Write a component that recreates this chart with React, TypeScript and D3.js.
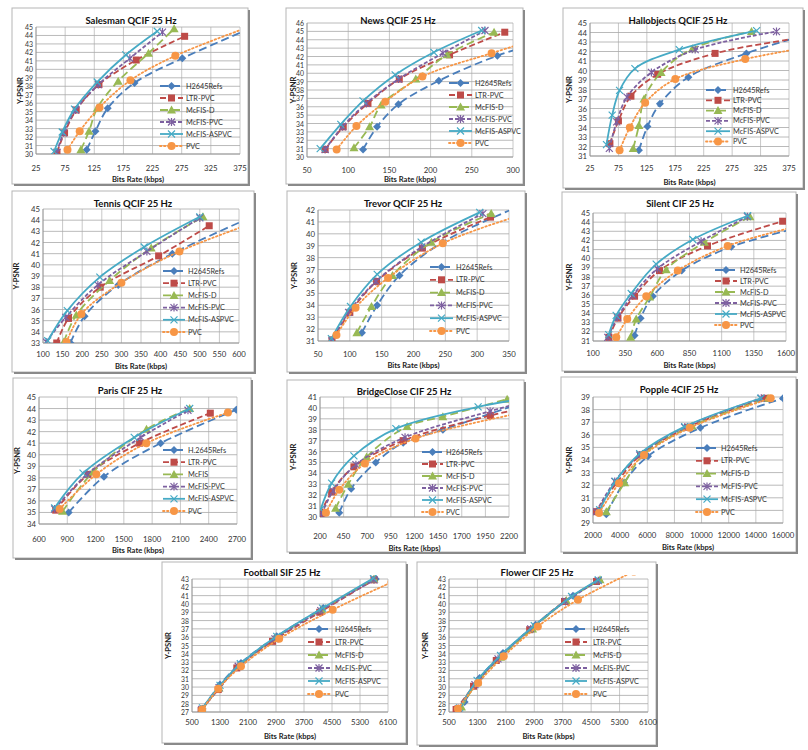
import React from 'react';
import * as d3 from 'd3';

type Pt = [number, number];

// ---------- legend labels ----------
const seriesNames = ['H2645Refs', 'LTR-PVC', 'McFIS-D', 'McFIS-PVC', 'McFIS-ASPVC', 'PVC'];
const parisNames = ['H.2645Refs', 'LTR-PVC', 'McFIS', 'McFIS-PVC', 'McFIS-ASPVC', 'PVC'];

// ---------- data (bit rate kbps, Y-PSNR dB) ----------
const salesmanData: Pt[][] = [
  [[112, 30.5], [127, 32.7], [148, 35.4], [194, 38.4], [276, 41.3], [395, 44.9]],
  [[61, 30.2], [74, 32.5], [94, 35.2], [133, 38.2], [197, 41.1], [280, 43.9]],
  [[102, 30.5], [116, 32.7], [130, 35.4], [166, 38.6], [218, 41.9], [262, 44.8]],
  [[61, 30.2], [72, 32.5], [93, 35.2], [132, 38.2], [186, 41.3], [242, 44.4]],
  [[56, 30.3], [70, 32.6], [91, 35.3], [130, 38.5], [179, 41.7], [233, 44.5]],
  [[79, 30.5], [100, 32.7], [134, 35.5], [187, 38.7], [264, 41.6], [390, 45.0]],
];
const newsData: Pt[][] = [
  [[118, 30.9], [135, 33.6], [161, 36.3], [210, 39.1], [281, 42.1], [320, 43.3]],
  [[72, 30.9], [94, 33.6], [124, 36.4], [162, 39.3], [223, 42.2], [290, 44.9]],
  [[107, 31.1], [126, 33.6], [140, 36.2], [182, 39.3], [220, 42.2], [277, 44.9]],
  [[72, 30.9], [93, 33.6], [122, 36.4], [161, 39.3], [215, 42.4], [266, 45.1]],
  [[66, 31.0], [91, 33.9], [118, 36.7], [157, 39.8], [204, 42.5], [262, 45.1]],
  [[86, 30.9], [110, 33.7], [145, 36.6], [190, 39.6], [274, 42.4], [320, 43.8]],
];
const hallData: Pt[][] = [
  [[111, 31.6], [126, 34.1], [148, 36.5], [198, 39.3], [300, 41.8], [390, 43.5]],
  [[60, 32.3], [75, 34.7], [97, 37.3], [144, 39.6], [245, 41.8], [390, 43.4]],
  [[101, 31.8], [111, 34.2], [120, 37.0], [150, 39.8], [205, 42.3], [309, 44.1]],
  [[59, 31.8], [72, 34.6], [90, 37.2], [133, 39.8], [210, 42.2], [353, 44.1]],
  [[54, 32.2], [64, 35.3], [77, 37.9], [104, 40.2], [182, 42.2], [318, 44.2]],
  [[77, 31.6], [95, 34.0], [122, 36.6], [175, 39.1], [298, 41.2], [395, 42.3]],
];
const tennisData: Pt[][] = [
  [[170, 33.0], [206, 35.4], [292, 38.2], [430, 41.0], [640, 44.4]],
  [[135, 33.0], [165, 35.2], [246, 38.0], [395, 40.8], [524, 43.5]],
  [[153, 33.1], [185, 35.5], [270, 38.6], [376, 41.5], [508, 44.3]],
  [[108, 33.1], [158, 35.3], [240, 38.2], [365, 41.2], [500, 44.2]],
  [[112, 33.2], [162, 35.9], [245, 38.9], [358, 41.6], [500, 44.3]],
  [[160, 33.1], [198, 35.6], [300, 38.4], [448, 41.2], [640, 43.8]],
];
const trevorData: Pt[][] = [
  [[119, 31.7], [143, 34.0], [178, 36.5], [246, 39.3], [370, 42.4]],
  [[72, 31.1], [100, 33.4], [142, 36.0], [214, 38.8], [321, 41.4]],
  [[111, 31.7], [134, 33.9], [167, 36.5], [228, 39.3], [322, 41.7]],
  [[72, 31.0], [98, 33.4], [141, 36.0], [213, 38.9], [309, 41.7]],
  [[71, 31.2], [101, 33.9], [143, 36.6], [212, 39.3], [304, 41.8]],
  [[79, 31.5], [109, 33.8], [160, 36.3], [246, 39.2], [370, 41.6]],
];
const silentData: Pt[][] = [
  [[423, 31.6], [470, 33.5], [565, 35.9], [790, 38.7], [1175, 41.3], [1700, 43.4]],
  [[224, 31.4], [294, 33.5], [423, 35.9], [617, 38.7], [990, 41.4], [1574, 44.1]],
  [[392, 31.4], [436, 33.4], [540, 35.8], [669, 38.8], [966, 41.8], [1320, 44.6]],
  [[215, 31.4], [290, 33.6], [410, 36.0], [600, 38.9], [940, 41.9], [1300, 44.6]],
  [[222, 31.7], [280, 33.8], [397, 36.2], [591, 39.4], [876, 42.1], [1302, 44.7]],
  [[281, 31.4], [366, 33.4], [514, 35.9], [759, 38.7], [1147, 41.4], [1700, 43.6]],
];
const parisData: Pt[][] = [
  [[915, 35.0], [1289, 38.1], [1890, 41.0], [2693, 43.9]],
  [[777, 35.2], [1120, 38.3], [1667, 41.0], [2417, 43.6]],
  [[850, 35.1], [1173, 38.5], [1740, 42.2], [2198, 44.0]],
  [[766, 35.3], [1110, 38.3], [1680, 41.5], [2180, 43.85]],
  [[766, 35.4], [1067, 38.4], [1610, 41.5], [2198, 44.0]],
  [[819, 35.3], [1208, 38.3], [1738, 41.0], [2604, 43.65]],
];
const bridgeData: Pt[][] = [
  [[404, 30.4], [530, 32.6], [790, 35.0], [1080, 36.8], [1500, 38.0], [2250, 40.2]],
  [[207, 30.3], [323, 32.3], [559, 34.6], [1080, 37.0], [2003, 39.3], [2250, 39.8]],
  [[365, 30.8], [499, 33.0], [693, 35.5], [1122, 38.3], [1500, 39.2], [2180, 40.8]],
  [[218, 30.3], [340, 32.4], [580, 34.8], [1100, 37.3], [2000, 39.7], [2250, 40.3]],
  [[207, 30.7], [323, 33.1], [559, 35.6], [1003, 38.1], [1873, 40.1], [2250, 40.7]],
  [[263, 30.4], [404, 32.5], [675, 34.9], [1211, 37.2], [2250, 39.4]],
];
const poppleData: Pt[][] = [
  [[2982, 29.7], [4284, 32.2], [6053, 34.3], [9909, 36.55], [16000, 38.9]],
  [[2245, 29.9], [3750, 32.2], [5500, 34.4], [9000, 36.6], [14650, 38.9]],
  [[2982, 29.9], [4334, 32.2], [5700, 34.4], [9300, 36.7], [14900, 38.9]],
  [[2245, 29.9], [3600, 32.3], [5440, 34.4], [8755, 36.6], [14400, 38.9]],
  [[2491, 30.05], [3646, 32.3], [5439, 34.5], [8755, 36.65], [14355, 38.9]],
  [[2442, 29.8], [3916, 32.15], [5758, 34.4], [9123, 36.55], [15093, 38.9]],
];
const footballData: Pt[][] = [
  [[800, 27.4], [1300, 30.3], [1900, 32.9], [2920, 36.1], [4250, 39.5], [5750, 43.0]],
  [[760, 27.2], [1250, 29.7], [1780, 32.3], [2800, 35.5], [4150, 39.0], [5700, 42.9]],
  [[790, 27.3], [1270, 29.9], [1830, 32.5], [2880, 35.9], [4200, 39.3], [5700, 43.0]],
  [[780, 27.3], [1270, 29.9], [1820, 32.5], [2870, 35.8], [4180, 39.2], [5700, 42.9]],
  [[800, 27.5], [1300, 30.2], [1880, 32.8], [2920, 36.1], [4230, 39.5], [5680, 43.1]],
  [[790, 27.3], [1250, 29.8], [1900, 32.5], [2990, 35.8], [4520, 39.3], [6200, 42.6]],
];
const flowerData: Pt[][] = [
  [[940, 28.2], [1360, 31.1], [2020, 34.1], [2940, 37.5], [3990, 41.0], [4720, 42.8]],
  [[700, 27.3], [1190, 30.1], [1830, 33.2], [2770, 36.9], [3750, 40.3], [4650, 42.7]],
  [[850, 27.6], [1300, 30.6], [1950, 33.6], [2850, 37.0], [3800, 40.4], [4750, 42.9]],
  [[760, 27.4], [1230, 30.3], [1880, 33.4], [2800, 37.0], [3780, 40.3], [4700, 42.8]],
  [[800, 27.5], [1290, 30.8], [1950, 33.8], [2900, 37.4], [3950, 40.9], [4700, 42.9]],
  [[750, 27.4], [1320, 30.5], [2040, 33.7], [3000, 37.3], [4130, 40.5], [5700, 43.9]],
];

// ---------- tick labels ----------
const ticks25to375 = [25, 75, 125, 175, 225, 275, 325, 375];
const newsTicks = [50, 100, 150, 200, 250, 300];
const tennisTicks = [100, 150, 200, 250, 300, 350, 400, 450, 500, 550, 600];
const trevorTicks = [50, 100, 150, 200, 250, 300, 350];
const silentTicks = [100, 350, 600, 850, 1100, 1350, 1600];
const parisTicks = [600, 900, 1200, 1500, 1800, 2100, 2400, 2700];
const bridgeTicks = [200, 450, 700, 950, 1200, 1450, 1700, 1950, 2200];
const poppleTicks = [2000, 4000, 6000, 8000, 10000, 12000, 14000, 16000];
const sifTicks = [500, 1300, 2100, 2900, 3700, 4500, 5300, 6100];

// ---------- styles ----------
const seriesStyle = [
  { color: '#4A7EBB', dash: '8,4', marker: 'diamond' },
  { color: '#BE4B48', dash: '6,3', marker: 'square' },
  { color: '#98B954', dash: '8,4', marker: 'triangle' },
  { color: '#7D60A0', dash: '4,2', marker: 'star' },
  { color: '#46AAC5', dash: '', marker: 'x' },
  { color: '#F79646', dash: '1.5,2.5', marker: 'circle' },
];

const FONT = 'Lato, "Open Sans", sans-serif';

interface PanelCfg {
  id: string;
  title: string;
  data: Pt[][];
  names: string[];
  xTicks: number[];
  yMin: number;
  yMax: number;
  box: number[];
  plot: number[];
  titleXY: number[];
  yLabelX: number;
  xLabelY: number;
  xTitleY: number;
  legend: number[];
}

const panels: PanelCfg[] = [
  { id: 'p1', title: 'Salesman QCIF 25 Hz', data: salesmanData, names: seriesNames, xTicks: ticks25to375, yMin: 30, yMax: 45,
    box: [12, 8, 248, 184], plot: [36, 27, 240, 154], titleXY: [131, 20], yLabelX: 20, xLabelY: 168, xTitleY: 179, legend: [160, 183, 186, 86, 12] },
  { id: 'p2', title: 'News QCIF 25 Hz', data: newsData, names: seriesNames, xTicks: newsTicks, yMin: 30, yMax: 46,
    box: [286, 8, 523, 184], plot: [307, 23, 513, 157], titleXY: [398, 20], yLabelX: 293, xLabelY: 170, xTitleY: 179, legend: [449, 472, 475, 83, 12] },
  { id: 'p3', title: 'Hallobjects QCIF 25 Hz', data: hallData, names: seriesNames, xTicks: ticks25to375, yMin: 31, yMax: 45,
    box: [563, 8, 803, 188], plot: [590, 23, 789, 156], titleXY: [678, 20], yLabelX: 569, xLabelY: 168, xTitleY: 182, legend: [706, 730, 733, 90, 10.3] },
  { id: 'p4', title: 'Tennis QCIF 25 Hz', data: tennisData, names: seriesNames, xTicks: tennisTicks, yMin: 33, yMax: 45,
    box: [12, 191, 254, 372], plot: [43, 209, 239, 343], titleXY: [133, 203], yLabelX: 16, xLabelY: 354, xTitleY: 366, legend: [163, 185, 188, 271, 12.2] },
  { id: 'p5', title: 'Trevor QCIF 25 Hz', data: trevorData, names: seriesNames, xTicks: trevorTicks, yMin: 31, yMax: 42,
    box: [287, 191, 525, 372], plot: [318, 210, 509, 341], titleXY: [403, 203], yLabelX: 294, xLabelY: 354, xTitleY: 365, legend: [430, 453, 456, 267, 12.8] },
  { id: 'p6', title: 'Silent CIF 25 Hz', data: silentData, names: seriesNames, xTicks: silentTicks, yMin: 31, yMax: 45,
    box: [562, 192, 796, 371], plot: [593, 213, 786, 341], titleXY: [680, 203], yLabelX: 569, xLabelY: 353, xTitleY: 365, legend: [715, 737, 740, 270, 11] },
  { id: 'p7', title: 'Paris CIF 25 Hz', data: parisData, names: parisNames, xTicks: parisTicks, yMin: 34, yMax: 45,
    box: [13, 378, 251, 558], plot: [39, 397, 237, 524], titleXY: [130, 390], yLabelX: 17, xLabelY: 539, xTitleY: 550, legend: [163, 185, 188, 450, 12.2] },
  { id: 'p8', title: 'BridgeClose CIF 25 Hz', data: bridgeData, names: seriesNames, xTicks: bridgeTicks, yMin: 30, yMax: 41,
    box: [287, 380, 524, 552], plot: [320, 397, 509, 517], titleXY: [404, 391], yLabelX: 293, xLabelY: 536, xTitleY: 548, legend: [422, 443, 446, 452, 12] },
  { id: 'p9', title: 'Popple 4CIF 25 Hz', data: poppleData, names: seriesNames, xTicks: poppleTicks, yMin: 29, yMax: 39,
    box: [561, 377, 796, 552], plot: [593, 397, 783, 523], titleXY: [679, 389], yLabelX: 569, xLabelY: 535, xTitleY: 547, legend: [696, 718, 721, 448, 12.8] },
  { id: 'p10', title: 'Football SIF 25 Hz', data: footballData, names: seriesNames, xTicks: sifTicks, yMin: 27, yMax: 43,
    box: [162, 562, 406, 743], plot: [192, 579, 388, 712], titleXY: [282, 572], yLabelX: 168, xLabelY: 722, xTitleY: 736, legend: [308, 330, 335, 629, 13] },
  { id: 'p11', title: 'Flower CIF 25 Hz', data: flowerData, names: seriesNames, xTicks: sifTicks, yMin: 27, yMax: 43,
    box: [417, 562, 656, 745], plot: [449, 579, 648, 712], titleXY: [537, 572], yLabelX: 425, xLabelY: 722, xTitleY: 736, legend: [565, 587, 593, 629, 13] },
];

function Marker({ kind, x, y, color }: { kind: string; x: number; y: number; color: string }) {
  switch (kind) {
    case 'diamond':
      return <path d={`M${x},${y - 4}L${x + 4},${y}L${x},${y + 4}L${x - 4},${y}Z`} fill={color} />;
    case 'square':
      return <rect x={x - 3.5} y={y - 3.5} width={7} height={7} fill={color} />;
    case 'triangle':
      return <path d={`M${x},${y - 4.5}L${x + 4.5},${y + 3.5}L${x - 4.5},${y + 3.5}Z`} fill={color} />;
    case 'star':
      return <path d={`M${x - 3.5},${y - 3.5}L${x + 3.5},${y + 3.5}M${x - 3.5},${y + 3.5}L${x + 3.5},${y - 3.5}M${x},${y - 4}L${x},${y + 4}`} stroke={color} strokeWidth={1.2} fill="none" />;
    case 'x':
      return <path d={`M${x - 3.5},${y - 3.5}L${x + 3.5},${y + 3.5}M${x - 3.5},${y + 3.5}L${x + 3.5},${y - 3.5}`} stroke={color} strokeWidth={1.2} fill="none" />;
    default:
      return <circle cx={x} cy={y} r={4} fill={color} />;
  }
}

function Panel({ cfg }: { cfg: PanelCfg }) {
  const [bx0, by0, bx1, by1] = cfg.box;
  const [pl, pt, pr, pb] = cfg.plot;
  const xs = d3.scaleLinear().domain([cfg.xTicks[0], cfg.xTicks[cfg.xTicks.length - 1]]).range([pl, pr]);
  const ys = d3.scaleLinear().domain([cfg.yMin, cfg.yMax]).range([pb, pt]);
  const yTicks = d3.range(cfg.yMin, cfg.yMax + 1);
  const ySpacing = (pb - pt) / (cfg.yMax - cfg.yMin);
  const yFont = Math.min(7.8, ySpacing / 1.22);
  const line = d3.line<Pt>().x(d => xs(d[0])).y(d => ys(d[1])).curve(d3.curveCatmullRom.alpha(0.5));
  const [lx0, lx1, ltx, ly0, ldy] = cfg.legend;
  const clipId = `clip-${cfg.id}`;
  return (
    <g>
      <rect x={bx0} y={by0} width={bx1 - bx0} height={by1 - by0} fill="#fff" stroke="#b5b5b5" strokeWidth={1} />
      <line x1={bx1 + 1} y1={by0 + 2} x2={bx1 + 1} y2={by1 + 1} stroke="#8a8a8a" strokeWidth={2} />
      <line x1={bx0 + 2} y1={by1 + 1} x2={bx1 + 2} y2={by1 + 1} stroke="#8a8a8a" strokeWidth={2} />
      <defs>
        <clipPath id={clipId}>
          <rect x={pl} y={pt - 4} width={pr - pl} height={pb - pt + 4} />
        </clipPath>
      </defs>
      {cfg.xTicks.map(t => (
        <line key={`vx${t}`} x1={xs(t)} x2={xs(t)} y1={pt} y2={pb} stroke="#c8c8c8" strokeWidth={1} />
      ))}
      {yTicks.map(t => (
        <line key={`hy${t}`} x1={pl} x2={pr} y1={ys(t)} y2={ys(t)} stroke="#a8a8a8" strokeWidth={0.8} />
      ))}
      <line x1={pl} x2={pl} y1={pt} y2={pb} stroke="#909090" strokeWidth={0.8} />
      <line x1={pl} x2={pr} y1={pb} y2={pb} stroke="#909090" strokeWidth={0.8} />
      {yTicks.map(t => (
        <text key={`yl${t}`} x={pl - 3} y={ys(t)} textAnchor="end" dominantBaseline="central" fontSize={yFont} fill="#333" fontFamily={FONT}>{t}</text>
      ))}
      {cfg.xTicks.map(t => (
        <text key={`xl${t}`} x={xs(t)} y={cfg.xLabelY} textAnchor="middle" dominantBaseline="central" fontSize={7.8} fill="#333" fontFamily={FONT}>{t}</text>
      ))}
      <text x={cfg.titleXY[0]} y={cfg.titleXY[1]} textAnchor="middle" dominantBaseline="central" fontSize={9.5} fontWeight="bold" fill="#111" fontFamily={FONT}>{cfg.title}</text>
      <text x={(pl + pr) / 2} y={cfg.xTitleY} textAnchor="middle" dominantBaseline="central" fontSize={7.6} fontWeight="bold" fill="#222" fontFamily={FONT}>Bits Rate (kbps)</text>
      <text transform={`translate(${cfg.yLabelX},${(pt + pb) / 2}) rotate(-90)`} textAnchor="middle" dominantBaseline="central" fontSize={7.6} fontWeight="bold" fill="#222" fontFamily={FONT}>Y-PSNR</text>
      <g clipPath={`url(#${clipId})`}>
        {cfg.data.map((s, i) => {
          const st = seriesStyle[i];
          return (
            <g key={`s${i}`}>
              <path d={line(s) || ''} fill="none" stroke={st.color} strokeWidth={1.8} strokeDasharray={st.dash || undefined} strokeLinecap={i === 5 ? 'round' : 'butt'} />
              {s.map((p, j) => (
                <Marker key={j} kind={st.marker} x={xs(p[0])} y={ys(p[1])} color={st.color} />
              ))}
            </g>
          );
        })}
      </g>
      {cfg.names.map((n, i) => {
        const st = seriesStyle[i];
        const y = ly0 + i * ldy;
        return (
          <g key={`lg${i}`}>
            <line x1={lx0} x2={lx1} y1={y} y2={y} stroke={st.color} strokeWidth={1.8} strokeDasharray={st.dash || undefined} strokeLinecap={i === 5 ? 'round' : 'butt'} />
            <Marker kind={st.marker} x={(lx0 + lx1) / 2} y={y} color={st.color} />
            <text x={ltx} y={y} dominantBaseline="central" fontSize={7.3} fill="#333" fontFamily={FONT}>{n}</text>
          </g>
        );
      })}
    </g>
  );
}

export default function App() {
  return (
    <svg width={808} height={750} style={{ position: 'absolute', left: 0, top: 0, background: '#fff' }}>
      <rect x={0} y={0} width={808} height={750} fill="#fff" />
      {panels.map(p => (
        <Panel key={p.id} cfg={p} />
      ))}
    </svg>
  );
}
